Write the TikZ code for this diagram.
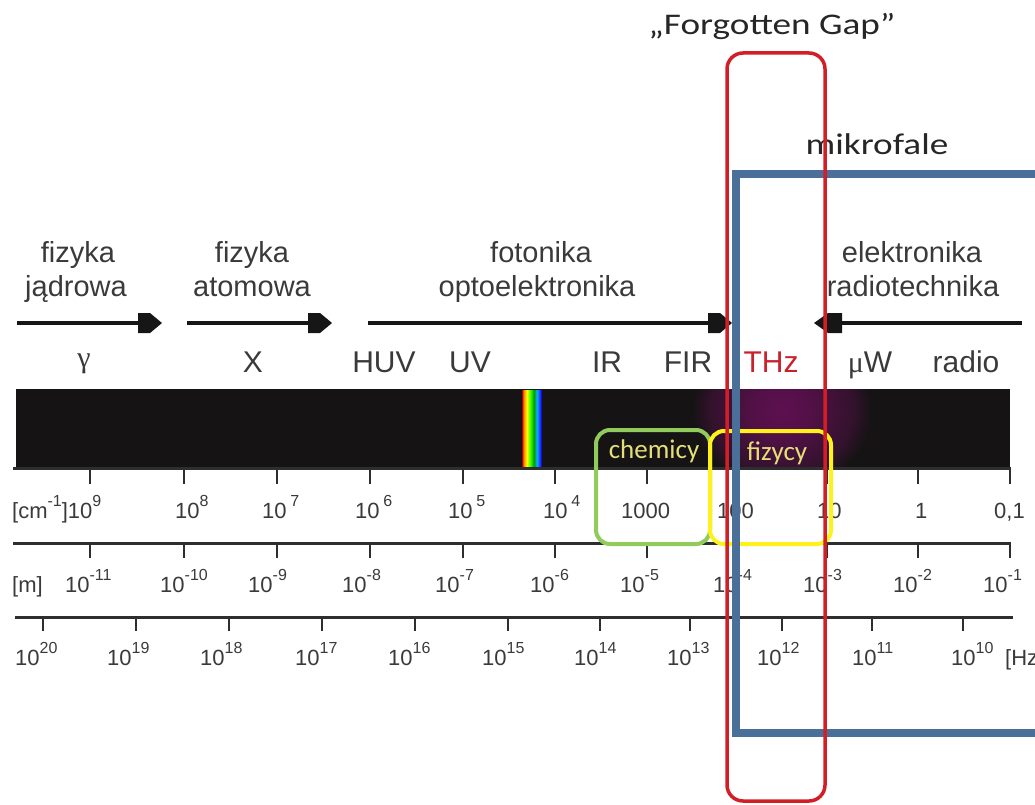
\documentclass[tikz,border=0pt]{standalone}
\usepackage{fontspec}
\setmainfont{Liberation Sans}
\newfontfamily\calib{Carlito}
\newfontfamily\calibwide[FakeStretch=1.24]{Carlito}
\newfontfamily\grserif{Liberation Serif}

\definecolor{ink}{HTML}{3A3A3A}
\definecolor{shaftink}{HTML}{161616}
\definecolor{barblack}{HTML}{151314}
\definecolor{gapred}{HTML}{D21E26}
\definecolor{mwblue}{HTML}{4A6F98}
\definecolor{chemgreen}{HTML}{90CB5C}
\definecolor{fizyellow}{HTML}{FFF21C}
\definecolor{labyellow}{HTML}{E6DF78}
\definecolor{thzpurple}{HTML}{5E1050}
\definecolor{thzred}{HTML}{C8222C}

% visible light band: red to violet
\pgfdeclarehorizontalshading{visband}{100bp}{%
  color(0bp)=(red!70!black); color(25bp)=(red!70!black);
  color(29bp)=(orange); color(37bp)=(yellow);
  color(46bp)=(green!80!yellow); color(55bp)=(green!60!black);
  color(62bp)=(cyan!70!blue); color(70bp)=(blue!85!white);
  color(75bp)=(blue!50!black); color(100bp)=(blue!50!black)}

% THz glow inside the bar
\pgfdeclareradialshading{thzglow}{\pgfpoint{0bp}{0bp}}{%
  color(0bp)=(thzpurple); color(8bp)=(thzpurple!85!barblack);
  color(20bp)=(thzpurple!40!barblack); color(25bp)=(barblack);
  color(50bp)=(barblack)}

% superscript in the scale labels
\newcommand\pw[2]{#1\raisebox{12pt}{\fontsize{16}{17}\selectfont #2}}
% arrow heads of the field arrows
\newcommand\headright[1]{\fill[shaftink] (#1) ++(0,-10) -- ++(12,0) -- ++(12,10) -- ++(-12,10) -- ++(-12,0) -- cycle;}
\newcommand\headleft[1]{\fill[shaftink] (#1) ++(0,-10) -- ++(-14,0) -- ++(-14,10) -- ++(14,10) -- ++(14,0) -- cycle;}

\begin{document}
\begin{tikzpicture}[x=1pt,y=-1pt,
  fieldlbl/.style={font=\fontsize{29}{34}\selectfont, text=ink, inner sep=0, anchor=base},
  bandlbl/.style={font=\fontsize{30}{34}\selectfont, text=ink, inner sep=0, anchor=base},
  scalelbl/.style={font=\fontsize{22}{24}\selectfont, text=ink, inner sep=0, anchor=base west},
  shaft/.style={draw=shaftink, line width=4pt},
  axisline/.style={draw=ink!80!black, line width=3pt},
  tickmark/.style={draw=ink!80!black, line width=2.5pt},
  groupbox/.style={line width=4pt, rounded corners=14pt},
  grouplbl/.style={font=\calib\fontsize{27}{29}\selectfont, text=labyellow, inner sep=0, anchor=base},
  notelbl/.style={font=\calibwide\fontsize{30}{32}\selectfont, text=black!85, inner sep=0, anchor=base}]

\useasboundingbox (0,0) rectangle (1035,805);
\clip (0,0) rectangle (1035,805);

% spectrum bar with THz glow and visible band
\fill[barblack] (16,389) rectangle (1010,467);
\begin{scope}
  \clip (16,389) rectangle (1010,467);
  \shade[shading=thzglow] (782,410) ellipse [x radius=90, y radius=80];
\end{scope}
\shade[shading=visband] (522,390) rectangle (542,466);

% field labels
\node[fieldlbl] (nucA) at (78,262) {fizyka};
\node[fieldlbl] (nucB) at (76,296) {jądrowa};
\node[fieldlbl] (atoA) at (252,262) {fizyka};
\node[fieldlbl] (atoB) at (252,296) {atomowa};
\node[fieldlbl] (fotA) at (541,262) {fotonika};
\node[fieldlbl] (fotB) at (537,296) {optoelektronika};
\node[fieldlbl] (eleA) at (912,262) {elektronika};
\node[fieldlbl] (eleB) at (913,296) {radiotechnika};

% field arrows
\coordinate (nucL) at (17,323);  \coordinate (nucR) at (138,323);
\coordinate (atoL) at (187,323); \coordinate (atoR) at (308,323);
\coordinate (fotL) at (368,323); \coordinate (fotR) at (708,323);
\coordinate (eleR) at (1022,323); \coordinate (eleL) at (842,323);
\draw[shaft] (nucL) -- (nucR); \headright{nucR}
\draw[shaft] (atoL) -- (atoR); \headright{atoR}
\draw[shaft] (fotL) -- (fotR); \headright{fotR}
\draw[shaft] (eleR) -- (eleL); \headleft{eleL}

% band names
\node[bandlbl] (gam) at (84,367) {\grserif γ};
\node[bandlbl] (xr) at (253,372) {X};
\node[bandlbl] (huv) at (384,372) {HUV};
\node[bandlbl] (uv) at (470,372) {UV};
\node[bandlbl] (ir) at (607,372) {IR};
\node[bandlbl] (fir) at (688,372) {FIR};
\node[bandlbl, text=thzred] (thz) at (771,372) {THz};
\node[bandlbl] (muw) at (870,372) {\grserif μ\rmfamily W};
\node[bandlbl] (rad) at (966,372) {radio};

% wavenumber scale
\draw[axisline] (13,468) -- (1011,468);
\foreach \x in {90,184,277,370,463,555,647,736,827,918,1010}
  \draw[tickmark] (\x,468) -- (\x,484);
\node[scalelbl] (k9) at (12,518) {\pw{[cm}{-1}]\pw{10}{9}};
\node[scalelbl] (k8) at (175,518) {\pw{10}{8}};
\node[scalelbl] (k7) at (262,518) {\pw{10\,}{7}};
\node[scalelbl] (k6) at (355,518) {\pw{10\,}{6}};
\node[scalelbl] (k5) at (448,518) {\pw{10\,}{5}};
\node[scalelbl] (k4) at (543,518) {\pw{10\,}{4}};
\node[scalelbl] (k3) at (621,518) {1000};
\node[scalelbl] (k2) at (717,518) {100};
\node[scalelbl] (k1) at (817,518) {10};
\node[scalelbl] (k0) at (915,518) {1};
\node[scalelbl] (km) at (994,518) {0,1};

% wavelength scale
\draw[axisline] (13,543) -- (1011,543);
\foreach \x in {90,184,277,370,463,555,647,736,827,918,1010}
  \draw[tickmark] (\x,543) -- (\x,558);
\node[scalelbl] (mu) at (12,592) {[m]};
\node[scalelbl] (m11) at (65,592) {\pw{10}{-11}};
\node[scalelbl] (m10) at (160,592) {\pw{10}{-10}};
\node[scalelbl] (m9) at (248,592) {\pw{10}{-9}};
\node[scalelbl] (m8) at (342,592) {\pw{10}{-8}};
\node[scalelbl] (m7) at (435,592) {\pw{10}{-7}};
\node[scalelbl] (m6) at (530,592) {\pw{10}{-6}};
\node[scalelbl] (m5) at (620,592) {\pw{10}{-5}};
\node[scalelbl] (m4) at (713,592) {\pw{10}{-4}};
\node[scalelbl] (m3) at (803,592) {\pw{10}{-3}};
\node[scalelbl] (m2) at (893,592) {\pw{10}{-2}};
\node[scalelbl] (m1) at (983,592) {\pw{10}{-1}};

% frequency scale
\draw[axisline] (15,617) -- (1013,617);
\foreach \x in {43,136,229,322,415,508,600,690,782,872,963}
  \draw[tickmark] (\x,617) -- (\x,631);
\node[scalelbl] (f20) at (15,665) {\pw{10}{20}};
\node[scalelbl] (f19) at (107,665) {\pw{10}{19}};
\node[scalelbl] (f18) at (200,665) {\pw{10}{18}};
\node[scalelbl] (f17) at (295,665) {\pw{10}{17}};
\node[scalelbl] (f16) at (388,665) {\pw{10}{16}};
\node[scalelbl] (f15) at (482,665) {\pw{10}{15}};
\node[scalelbl] (f14) at (574,665) {\pw{10}{14}};
\node[scalelbl] (f13) at (667,665) {\pw{10}{13}};
\node[scalelbl] (f12) at (757,665) {\pw{10}{12}};
\node[scalelbl] (f11) at (852,665) {\pw{10}{11}};
\node[scalelbl] (f10) at (951,665) {\pw{10}{10}};
\node[scalelbl] (hz) at (1005,665) {[Hz]};

% who works where
\draw[groupbox, chemgreen] (596,430) rectangle (710,544);
\draw[groupbox, fizyellow] (710,431) rectangle (831,544);
\node[grouplbl] (chem) at (654,458) {chemicy};
\node[grouplbl] (fiz) at (777,460) {fizycy};

% microwave range
\draw[mwblue, line width=8pt] (736,174) rectangle (1070,733);
\node[notelbl] (mikro) at (877,155) {mikrofale};

% THz gap
\draw[gapred, line width=3.5pt, rounded corners=16pt] (727,53) rectangle (825,801);
\node[notelbl] (gap) at (772,35) {„Forgotten Gap”};

\end{tikzpicture}
\end{document}
